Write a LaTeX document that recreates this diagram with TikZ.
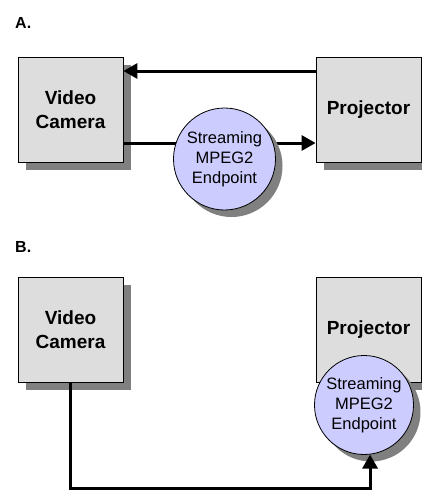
\documentclass[tikz,border=0pt]{standalone}
\usepackage{fontspec}
\setmainfont{Liberation Sans}
\usetikzlibrary{arrows.meta,shadows}

\definecolor{boxgray}{HTML}{DDDDDD}
\definecolor{shadowgray}{HTML}{808080}
\definecolor{lavender}{HTML}{CCCCFF}

\tikzset{
  device/.style={draw=black, line width=0.8pt, fill=boxgray,
    minimum width=105pt, minimum height=105pt, inner sep=0pt,
    align=center, font=\fontsize{19}{24}\selectfont\bfseries,
    drop shadow={shadow xshift=8pt, shadow yshift=-8pt, fill=shadowgray, opacity=1}},
  endpoint/.style={circle, draw=black, line width=0.8pt, fill=lavender,
    inner sep=0pt, align=center, font=\fontsize{16.5}{20}\selectfont,
    drop shadow={shadow xshift=7pt, shadow yshift=-7pt, fill=shadowgray, opacity=1}},
  flow/.style={line width=3pt, -{Triangle[length=14pt,width=15pt]}},
  plain/.style={line width=3pt},
  panel/.style={font=\fontsize{16}{19}\selectfont\bfseries, anchor=base west, inner sep=0pt}
}

\begin{document}
\begin{tikzpicture}[x=1pt, y=-1pt]
  \useasboundingbox (0,0) rectangle (422,491);

  % ---- Panel A ----
  \node[panel] (lblA) at (15,28) {A.};
  \node[device] (camA) at (70.5,109.5) {Video\\Camera};
  \node[device] (projA) at (368.5,109.5) {Projector};

  % return path, projector to camera
  \draw[flow] ([yshift=38.5pt]projA.west) -- ([yshift=38.5pt]camA.east);
  % stream path, camera to projector (runs behind the endpoint)
  \draw[flow] ([yshift=-33.5pt]camA.east) -- ([yshift=-33.5pt]projA.west);

  \node[endpoint, minimum size=102pt] (epA) at (224.5,159) {Streaming\\MPEG2\\Endpoint};

  % ---- Panel B ----
  \node[panel] (lblB) at (15,252) {B.};
  \node[device] (camB) at (70.5,329.5) {Video\\Camera};
  \node[device] (projB) at (368.5,329.5) {Projector};

  \node[endpoint, minimum size=99pt] (epB) at (364,405) {Streaming\\MPEG2\\Endpoint};

  \coordinate (floor) at (0,488.5);
  \draw[flow] (camB.south) -- (camB.south |- floor) -| (epB.-83);
\end{tikzpicture}
\end{document}
